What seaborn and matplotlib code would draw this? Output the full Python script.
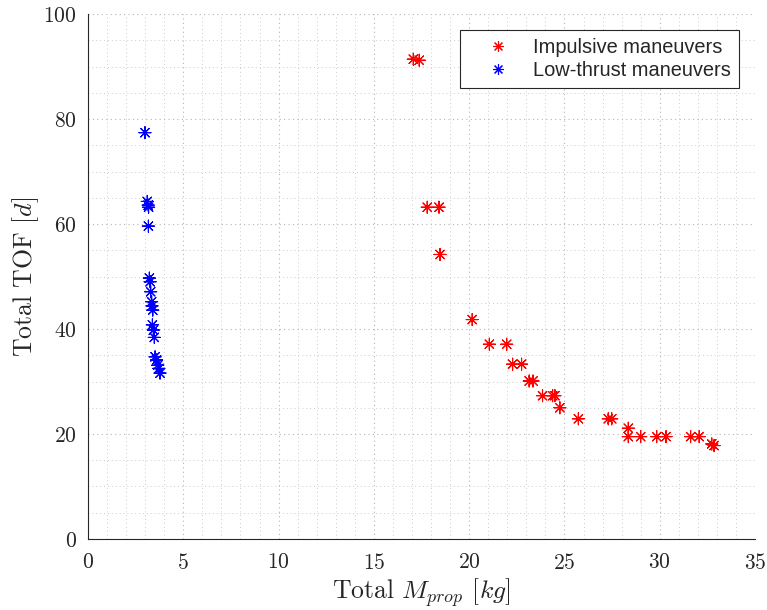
import matplotlib
matplotlib.use("Agg")
import matplotlib.pyplot as plt
from matplotlib.ticker import MultipleLocator
import seaborn as sns
import pandas as pd

# Impulsive transfer solutions: propellant mass [kg] and time of flight [d]
imp_mprop = [17.07, 17.38, 17.80, 18.42, 18.47, 20.16, 21.06, 21.97, 22.28, 22.75,
             23.15, 23.35, 23.85, 24.38, 24.50, 24.76, 25.73, 27.30, 27.48, 28.35,
             28.35, 29.00, 29.84, 30.33, 31.62, 32.07, 32.73, 32.85]
imp_tof = [91.4, 91.2, 63.2, 63.2, 54.2, 41.8, 37.1, 37.1, 33.3, 33.3,
           30.1, 30.1, 27.3, 27.3, 27.3, 25.0, 22.9, 22.9, 22.9, 21.1,
           19.5, 19.5, 19.5, 19.5, 19.5, 19.5, 18.1, 17.8]

# Low-thrust transfer solutions
lt_mprop = [2.99, 3.11, 3.16, 3.18, 3.17, 3.22, 3.26, 3.29, 3.34, 3.36, 3.40,
            3.38, 3.43, 3.48, 3.52, 3.60, 3.66, 3.72, 3.78]
lt_tof = [77.4, 64.3, 63.6, 63.2, 59.6, 49.7, 49.0, 47.1, 45.2, 44.4, 43.6,
          40.8, 39.8, 38.4, 34.7, 34.1, 33.1, 32.5, 31.6]

labels = ["Impulsive maneuvers", "Low-thrust maneuvers"]

df = pd.DataFrame({
    "mprop": imp_mprop + lt_mprop,
    "tof": imp_tof + lt_tof,
    "kind": [labels[0]] * len(imp_mprop) + [labels[1]] * len(lt_mprop),
})

sns.set_style("white")
plt.rcParams["font.family"] = ["cmr10", "DejaVu Serif"]
plt.rcParams["mathtext.fontset"] = "cm"
plt.rcParams["axes.formatter.use_mathtext"] = True

fig = plt.figure(figsize=(7.67, 6.10), dpi=100)
ax = fig.add_axes([0.1147, 0.1164, 0.8697, 0.8606])

dark = "#262626"
sns.scatterplot(data=df, x="mprop", y="tof", hue="kind",
                palette={labels[0]: "#ff0000", labels[1]: "#0000ff"},
                marker=(8, 2, 0), s=75, linewidth=0.8, ax=ax, legend=True)

ax.set_xlim(0, 35)
ax.set_ylim(0, 100)
ax.xaxis.set_major_locator(MultipleLocator(5))
ax.xaxis.set_minor_locator(MultipleLocator(1))
ax.yaxis.set_major_locator(MultipleLocator(20))
ax.yaxis.set_minor_locator(MultipleLocator(5))

ax.grid(True, which="major", linestyle=(0, (1, 3)), color="#b4b4b4", linewidth=0.8)
ax.grid(True, which="minor", linestyle=(0, (1, 3)), color="#cccccc", linewidth=0.7)
ax.set_axisbelow(True)

for side in ("top", "right"):
    ax.spines[side].set_visible(False)
for side in ("left", "bottom"):
    ax.spines[side].set_color(dark)
    ax.spines[side].set_linewidth(0.8)

ax.tick_params(which="major", direction="in", length=5, width=0.8, color=dark,
               labelsize=15.5, labelcolor=dark)
ax.tick_params(axis="x", which="major", pad=10)
ax.tick_params(axis="y", which="major", pad=8)
ax.tick_params(which="minor", length=0)

ax.set_xlabel(r"Total $M_{prop}$ $[kg]$", fontsize=18.5, color=dark, labelpad=2)
ax.set_ylabel(r"Total TOF $[d]$", fontsize=18.5, color=dark, labelpad=2)

handles, _ = ax.get_legend_handles_labels()
leg = ax.legend(handles=handles, labels=labels, loc="upper right",
                bbox_to_anchor=(0.976, 0.9695), frameon=True, fancybox=False,
                prop={"family": "Liberation Sans", "size": 14.4},
                handletextpad=0.25, borderpad=0.4, labelspacing=0.22,
                handlelength=3.0, borderaxespad=0, markerscale=0.9)
leg.get_frame().set_edgecolor(dark)
leg.get_frame().set_linewidth(0.8)
leg.get_frame().set_facecolor("white")
leg.get_frame().set_alpha(1)

fig.savefig("out.png", dpi=100)
